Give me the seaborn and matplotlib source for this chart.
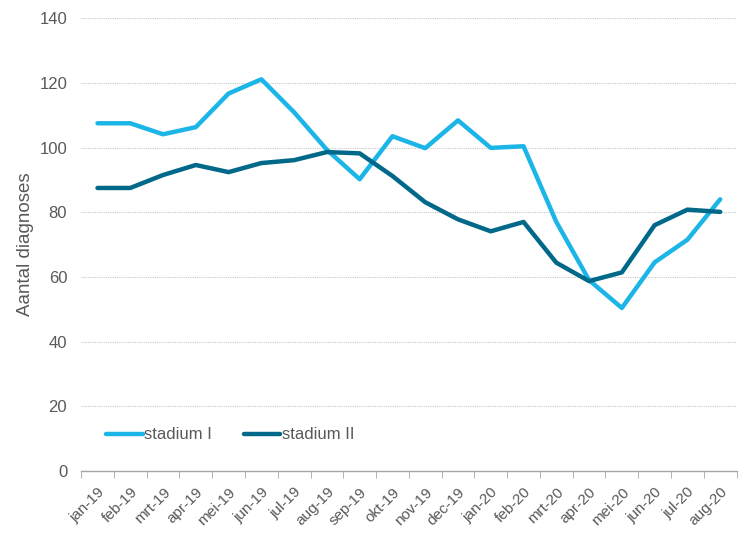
import numpy as np
import pandas as pd
import matplotlib
matplotlib.use("Agg")
import matplotlib.pyplot as plt
import seaborn as sns

months = ["jan-19", "feb-19", "mrt-19", "apr-19", "mei-19", "jun-19", "jul-19",
          "aug-19", "sep-19", "okt-19", "nov-19", "dec-19", "jan-20", "feb-20",
          "mrt-20", "apr-20", "mei-20", "jun-20", "jul-20", "aug-20"]
stadium_1 = [107.5, 107.5, 104.1, 106.3, 116.7, 121.1, 110.9, 99.3, 90.2, 103.5,
             99.8, 108.4, 99.9, 100.4, 77.0, 59.0, 50.4, 64.5, 71.5, 84.0]
stadium_2 = [87.5, 87.5, 91.5, 94.6, 92.4, 95.2, 96.1, 98.6, 98.2, 91.2,
             83.1, 77.8, 74.1, 77.0, 64.4, 58.7, 61.4, 76.0, 80.8, 80.1]
series_names = ["stadium I", "stadium II"]
colors = ["#1cb5e8", "#00698a"]

df = pd.DataFrame({
    "maand": months * 2,
    "aantal": stadium_1 + stadium_2,
    "serie": [series_names[0]] * len(months) + [series_names[1]] * len(months),
})

sns.set_style("white")
plt.rcParams["font.family"] = ["Liberation Sans", "DejaVu Sans"]

fig = plt.figure(figsize=(7.44, 5.34), dpi=100)
ax = fig.add_axes([0.109, 0.118, 0.881, 0.848])

sns.lineplot(data=df, x="maand", y="aantal", hue="serie", palette=colors,
             linewidth=3.2, ax=ax, sort=False)

ax.set_ylim(0, 140)
ax.set_yticks(np.arange(0, 141, 20))
ax.set_xlim(-0.5, len(months) - 0.5)
ax.grid(axis="y", color="#c8c8c8", linestyle=(0, (1, 1)), linewidth=0.8)
ax.set_axisbelow(True)

for side in ["left", "top", "right"]:
    ax.spines[side].set_visible(False)
ax.spines["bottom"].set_color("#a6a6a6")
ax.spines["bottom"].set_linewidth(1.0)

ax.set_xticks(np.arange(len(months)))
ax.set_xticklabels(months, rotation=45, ha="right", rotation_mode="anchor")
ax.set_xticks(np.arange(len(months) + 1) - 0.5, minor=True)
ax.tick_params(axis="x", which="major", length=0, pad=10, labelsize=11, labelcolor="#595959")
ax.tick_params(axis="x", which="minor", length=5, color="#a6a6a6", bottom=True)
ax.tick_params(axis="y", length=0, labelsize=12, labelcolor="#595959", pad=10)

ax.set_xlabel("")
ax.set_ylabel("Aantal diagnoses", fontsize=13.5, color="#595959", labelpad=4)

ax.legend(loc="lower left", bbox_to_anchor=(0.015, 0.03), ncol=2, frameon=False,
          fontsize=12, handlelength=2.2, handletextpad=0.1, columnspacing=1.9,
          labelcolor="#595959")

fig.savefig("out.png", dpi=100)
